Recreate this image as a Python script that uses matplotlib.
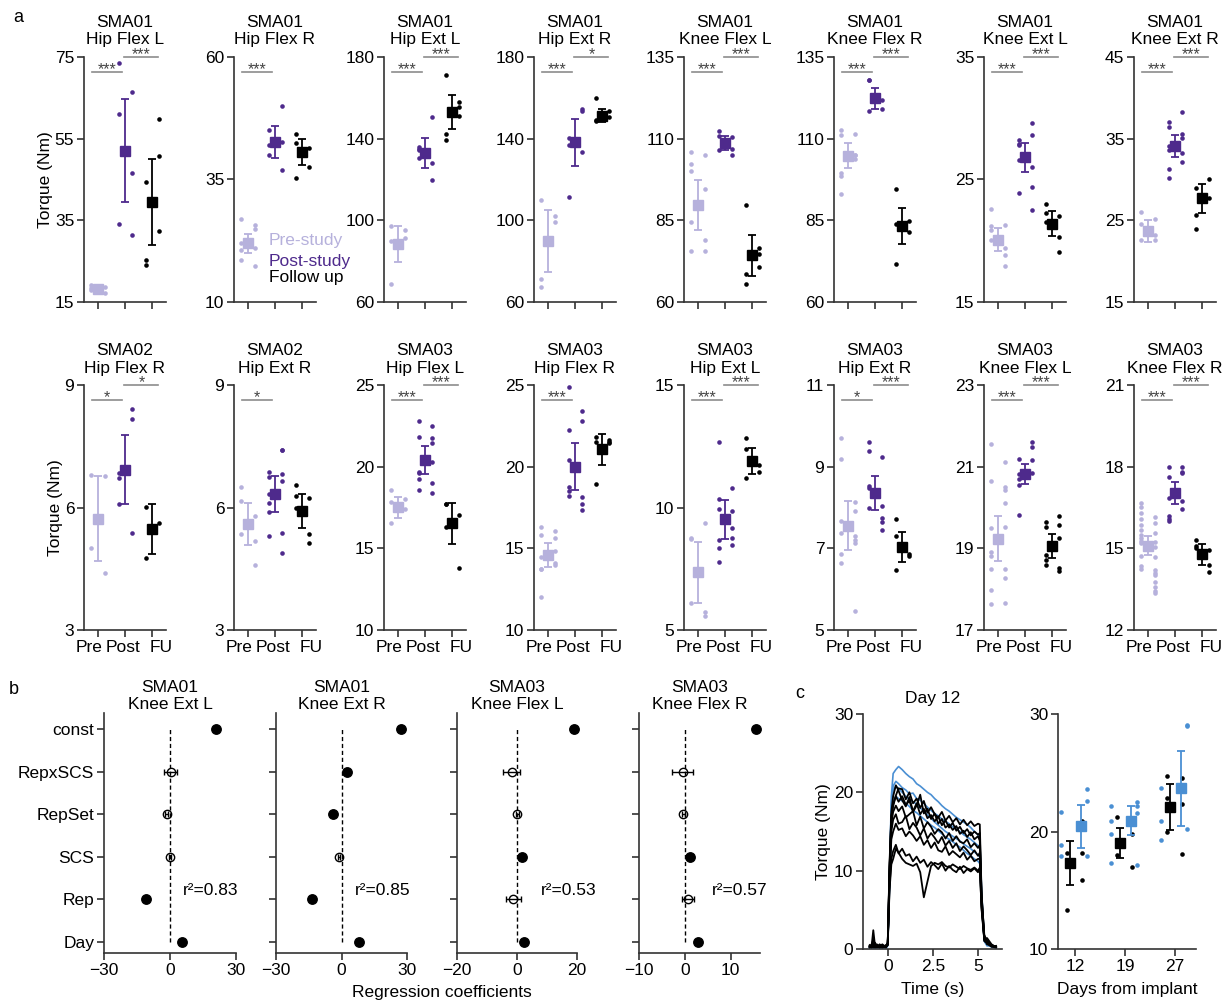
import numpy as np
import matplotlib
matplotlib.use("Agg")
import matplotlib.pyplot as plt
from matplotlib.transforms import ScaledTranslation

plt.rcParams['font.family'] = ['Liberation Sans', 'DejaVu Sans']
plt.rcParams['font.size'] = 12.5

# ---------------- data: panel a ----------------
TITLES_A = ["SMA01\nHip Flex L", "SMA01\nHip Flex R", "SMA01\nHip Ext L", "SMA01\nHip Ext R",
            "SMA01\nKnee Flex L", "SMA01\nKnee Flex R", "SMA01\nKnee Ext L", "SMA01\nKnee Ext R",
            "SMA02\nHip Flex R", "SMA02\nHip Ext R", "SMA03\nHip Flex L", "SMA03\nHip Flex R",
            "SMA03\nHip Ext L", "SMA03\nHip Ext R", "SMA03\nKnee Flex L", "SMA03\nKnee Flex R"]
YTICKS_A = [[15, 35, 55, 75], [10, 35, 60], [60, 100, 140, 180], [60, 100, 140, 180],
            [60, 85, 110, 135], [60, 85, 110, 135], [15, 25, 35], [15, 25, 35, 45],
            [3, 6, 9], [3, 6, 9], [10, 15, 20, 25], [10, 15, 20, 25],
            [5, 10, 15], [5, 7, 9, 11], [17, 19, 21, 23], [12, 15, 18, 21]]
PRE_PTS = [
    [19.2, 18.7, 18.0, 17.2, 18.4],
    [26.9, 25.8, 22.0, 24.8, 20.7, 21.0, 18.6, 17.3],
    [97.1, 95.1, 68.8, 91.3, 89.7],
    [109.8, 102.0, 67.2, 99.2, 71.4],
    [106.0, 104.9, 102.3, 75.7, 100.0, 94.6, 84.4, 78.9, 75.7],
    [112.6, 111.5, 111.2, 104.9, 99.5, 103.8, 98.7, 105.0, 93.2],
    [22.6, 21.3, 21.2, 19.4, 20.9, 18.8, 20.1, 17.97],
    [26.0, 25.2, 24.6, 23.2, 22.6, 22.6],
    [6.80, 6.78, 5.02, 4.39],
    [6.51, 5.78, 6.17, 5.18, 5.34, 4.59],
    [18.6, 18.0, 17.86, 17.4, 16.53],
    [16.33, 16.08, 15.82, 15.61, 14.49, 14.86, 13.71, 14.08, 12.04, 13.98, 13.71],
    [8.70, 9.38, 8.74, 5.57, 6.12, 5.75],
    [9.69, 8.13, 9.19, 7.91, 7.68, 7.31, 7.37, 7.12, 6.85, 7.20, 6.63, 5.47],
    [21.56, 21.11, 20.66, 20.51, 19.49, 20.43, 18.90, 20.10, 18.80, 19.53, 18.49, 18.49,
     17.64, 18.27, 17.98, 17.67],
    [16.68, 16.16, 16.51, 15.92, 16.29, 15.58, 16.07, 15.22, 15.86, 15.04, 15.67, 14.69,
     15.37, 14.20, 15.28, 14.08, 15.18, 14.02, 14.72, 13.78, 14.35, 13.59, 14.23, 13.43,
     15.50, 13.37],
]
POST_PTS = [
    [73.5, 66.4, 61.1, 46.6, 34.2, 31.3],
    [45.2, 49.9, 42.0, 42.6, 40.1, 36.9],
    [135.8, 150.6, 134.3, 128.1, 130.5, 119.9, 134.8],
    [136.7, 154.5, 111.3, 153.7, 140.3, 133.3],
    [112.4, 110.4, 110.9, 106.8, 106.5, 105.1],
    [127.9, 121.7, 128.1, 119.1, 118.6],
    [28.25, 29.6, 27.8, 28.6, 27.9, 26.0, 26.6, 24.4, 23.9, 22.5],
    [37.0, 38.3, 36.4, 35.6, 33.6, 35.1, 31.3, 33.2, 30.2, 32.2, 34.1],
    [6.85, 8.41, 6.73, 8.17, 6.09, 5.38],
    [6.88, 7.42, 6.74, 7.41, 6.12, 6.81, 5.90, 6.66, 6.33, 5.37, 5.31, 4.88],
    [22.8, 22.5, 21.84, 21.73, 19.69, 21.43, 19.59, 20.31, 19.22, 18.98, 18.57, 18.4],
    [24.9, 23.43, 22.24, 22.8, 20.41, 18.12, 18.78, 17.71, 18.51, 17.35, 18.2],
    [12.69, 10.81, 10.33, 9.87, 9.93, 9.15, 8.67, 8.74, 8.33, 8.47, 7.76],
    [9.60, 9.24, 9.39, 7.75, 8.53, 7.65, 8.47, 8.04, 8.0, 7.45],
    [21.19, 21.61, 20.82, 21.47, 20.69, 21.16, 19.82, 20.84, 20.55],
    [18.0, 18.0, 17.61, 17.79, 16.84, 17.76, 16.19, 16.75, 16.02, 16.44, 16.08],
]
FU_PTS = [
    [44.3, 59.8, 25.2, 50.7, 24.1, 32.3],
    [44.3, 41.4, 42.4, 37.5, 35.4],
    [171.0, 158.1, 142.4, 155.5, 139.5, 150.9],
    [159.9, 153.7, 148.5, 150.5, 149.3],
    [89.6, 76.5, 68.7, 74.8, 65.5, 70.6],
    [94.6, 84.9, 71.6, 81.4, 84.0],
    [23.0, 20.3, 22.3, 19.1, 21.5, 22.0],
    [23.9, 30.0, 29.0, 27.7, 25.6],
    [6.02, 5.63, 4.76],
    [6.55, 6.24, 6.27, 5.34, 6.0, 5.12],
    [17.71, 17.04, 17.71, 13.82, 16.33],
    [21.8, 21.63, 21.49, 21.53, 18.94, 21.47],
    [12.82, 11.73, 12.37, 11.46, 11.22],
    [7.71, 6.86, 7.29, 6.81, 6.47],
    [19.65, 19.8, 19.53, 19.57, 18.84, 19.26, 18.71, 18.53, 18.59, 18.44],
    [15.31, 14.39, 15.09, 14.12, 15.02, 14.94],
]
MEANS_A = [[18.3, 52.1, 39.4], [22.0, 42.7, 40.7], [88.4, 133.0, 152.9], [90.0, 138.2, 151.3],
           [89.8, 108.7, 74.3], [104.8, 122.3, 83.2], [20.1, 26.8, 21.4], [23.7, 34.1, 27.7],
           [5.73, 6.93, 5.47], [5.60, 6.33, 5.91], [17.51, 20.41, 16.53], [14.59, 20.0, 21.06],
           [7.35, 9.52, 11.91], [7.55, 8.35, 7.04], [19.24, 20.82, 19.06], [15.1, 17.04, 14.78]]
SEMS_A = [[0.4, 12.5, 10.5], [1.9, 3.25, 2.65], [9.0, 7.55, 8.4], [15.2, 11.65, 3.25],
          [7.65, 2.15, 6.25], [3.9, 3.15, 5.5], [0.9, 1.15, 1.05], [1.35, 1.3, 1.8],
          [1.05, 0.85, 0.62], [0.51, 0.44, 0.42], [0.63, 0.84, 1.27], [0.72, 1.43, 0.93],
          [1.25, 0.79, 0.53], [0.6, 0.41, 0.37], [0.54, 0.25, 0.29], [0.35, 0.41, 0.38]]
SIGS_A = [["***", "***"], ["***", ""], ["***", "***"], ["***", "*"],
          ["***", "***"], ["***", "***"], ["***", "***"], ["***", "***"],
          ["*", "*"], ["*", ""], ["***", "***"], ["***", ""],
          ["***", "***"], ["*", "***"], ["***", "***"], ["***", "***"]]
GROUPS = ["Pre", "Post", "FU"]
LEGEND_A = ["Pre-study", "Post-study", "Follow up"]

# ---------------- data: panel b ----------------
TITLES_B = ["SMA01\nKnee Ext L", "SMA01\nKnee Ext R", "SMA03\nKnee Flex L", "SMA03\nKnee Flex R"]
TERMS = ["const", "RepxSCS", "RepSet", "SCS", "Rep", "Day"]
COEFS = [[21.0, 0.3, -1.5, 0.0, -11.0, 5.6],
         [27.2, 2.3, -4.1, -1.1, -13.6, 8.0],
         [18.9, -1.8, 0.0, 1.7, -1.2, 2.2],
         [15.5, -0.5, -0.3, 1.2, 0.7, 2.8]]
COEF_ERR = [[0.5, 3.0, 0.8, 0.6, 0.5, 0.5],
            [0.5, 1.2, 0.5, 0.6, 0.5, 0.5],
            [0.5, 2.8, 0.5, 0.5, 2.4, 0.5],
            [0.5, 2.2, 0.4, 0.5, 1.3, 0.5]]
SIGNIF = [[1, 0, 0, 0, 1, 1],
          [1, 1, 1, 0, 1, 1],
          [1, 0, 0, 1, 0, 1],
          [1, 0, 0, 1, 0, 1]]
R2 = ["0.83", "0.85", "0.53", "0.57"]
XLIM_B = [(-30, 30), (-30, 30), (-20, 20), (-10, 16.4)]
XTICKS_B = [[-30, 0, 30], [-30, 0, 30], [-20, 0, 20], [-10, 0, 10]]

# ---------------- data: panel c ----------------
T_TRACE = [-1.0, -0.9, -0.8, -0.7, -0.6, -0.45, -0.3, -0.1, 0.0, 0.1, 0.2, 0.3, 0.45, 0.6,
           0.8, 1.0, 1.2, 1.4, 1.6, 1.8, 2.0, 2.2, 2.4, 2.6, 2.8, 3.0, 3.2, 3.4, 3.6, 3.8,
           4.0, 4.2, 4.4, 4.6, 4.8, 5.0, 5.1, 5.2, 5.35, 5.5, 5.75, 6.0]
BLUE_TRACES = [
    [0.2, 0.4, 0.1, 0.3, 0.2, 0.1, 0.3, 0.2, 0.6, 9.5, 19.5, 22.4, 22.9, 23.3,
     22.9, 22.4, 22.0, 21.7, 21.1, 20.8, 20.4, 20.0, 19.7, 19.2, 18.8, 18.3, 17.9, 17.6,
     17.2, 16.8, 16.5, 16.2, 15.9, 15.5, 15.0, 14.6, 14.1, 7.5, 1.2, 0.6, 0.3, 0.2],
    [0.1, 0.2, 0.3, 0.1, 0.2, 0.3, 0.1, 0.2, 0.5, 9.0, 18.5, 20.8, 21.4, 21.1,
     20.6, 20.3, 19.8, 19.9, 19.2, 19.0, 18.6, 18.1, 17.7, 17.3, 17.0, 16.6, 16.3, 16.0,
     15.6, 15.3, 15.0, 14.6, 14.3, 14.0, 13.6, 13.2, 12.9, 6.5, 1.0, 0.4, 0.5, 0.2],
    [0.3, 0.1, 0.2, 0.2, 0.4, 0.1, 0.2, 0.1, 0.4, 8.5, 17.8, 20.3, 20.8, 20.5,
     20.0, 19.5, 19.1, 18.8, 18.5, 18.0, 17.6, 17.1, 16.7, 16.2, 15.8, 15.4, 15.0, 14.7,
     14.4, 14.1, 13.8, 13.4, 13.1, 12.8, 12.4, 12.0, 11.7, 6.0, 1.3, 0.7, 0.3, 0.1],
    [0.2, 0.3, 0.2, 0.1, 0.3, 0.2, 0.1, 0.3, 0.5, 8.0, 16.5, 18.8, 19.5, 19.2,
     18.9, 18.6, 18.2, 17.7, 17.4, 17.0, 16.6, 16.2, 15.8, 15.5, 15.1, 14.7, 14.3, 14.0,
     13.7, 13.3, 13.0, 12.6, 12.2, 11.9, 11.5, 11.2, 10.9, 5.5, 1.1, 0.5, 0.3, 0.2],
]
BLACK_TRACES = [
    [0.3, 0.5, 1.2, 0.4, 0.2, 0.6, 0.3, 0.4, 0.8, 10.5, 17.0, 18.2, 19.6, 20.5,
     20.4, 19.1, 20.0, 18.6, 19.2, 18.0, 18.9, 17.4, 18.1, 17.2, 16.8, 17.5, 16.4, 17.0,
     16.2, 16.7, 15.9, 16.5, 15.8, 16.3, 15.7, 16.0, 15.9, 7.0, 1.5, 0.9, 0.4, 0.3],
    [0.4, 0.2, 2.4, 0.3, 0.6, 0.2, 0.5, 0.3, 0.6, 11.0, 17.5, 19.5, 20.9, 20.2,
     19.0, 18.2, 19.4, 17.5, 18.3, 19.7, 17.3, 17.9, 16.6, 17.3, 16.0, 16.6, 15.5, 15.9,
     15.2, 15.7, 14.7, 15.1, 14.3, 14.9, 14.0, 14.4, 13.8, 6.8, 1.8, 1.0, 0.5, 0.3],
    [0.2, 0.6, 0.3, 0.8, 0.3, 0.5, 0.2, 0.4, 0.7, 10.0, 16.0, 17.5, 18.3, 17.6,
     18.2, 16.8, 17.2, 17.6, 15.8, 16.9, 15.4, 16.2, 15.6, 14.7, 15.3, 14.9, 14.1, 14.8,
     13.8, 14.4, 13.7, 13.5, 14.0, 13.0, 13.5, 12.9, 13.3, 6.2, 1.2, 1.4, 0.6, 0.2],
    [0.5, 0.3, 0.7, 0.2, 0.4, 0.3, 0.6, 0.2, 0.5, 9.5, 15.0, 16.5, 17.2, 16.0,
     16.2, 17.0, 15.3, 16.1, 15.5, 14.5, 15.4, 14.1, 14.8, 14.2, 13.5, 14.3, 13.2, 13.8,
     12.9, 13.5, 12.5, 13.1, 12.6, 12.0, 12.6, 11.9, 12.3, 5.8, 1.0, 0.8, 0.3, 0.4],
    [0.3, 0.4, 0.2, 0.5, 0.3, 0.2, 0.4, 0.3, 0.6, 9.0, 14.0, 15.0, 16.0, 15.2,
     15.4, 14.4, 15.0, 14.5, 13.8, 14.4, 13.3, 13.9, 12.9, 13.6, 12.6, 12.4, 13.1, 12.0,
     12.5, 12.1, 11.7, 12.3, 11.4, 11.9, 11.2, 11.5, 11.5, 5.5, 1.6, 0.6, 0.5, 0.2],
    [0.2, 0.3, 0.5, 0.2, 0.3, 0.4, 0.2, 0.3, 0.5, 8.0, 11.5, 12.5, 13.3, 12.2,
     12.8, 11.9, 12.1, 11.2, 11.8, 11.0, 11.4, 10.5, 11.1, 10.7, 10.2, 10.9, 10.0, 10.6,
     10.1, 9.8, 10.5, 9.7, 10.2, 9.9, 10.3, 9.8, 10.4, 5.0, 1.1, 0.7, 0.3, 0.2],
    [0.4, 0.2, 0.3, 0.6, 0.2, 0.3, 0.2, 0.5, 0.6, 7.5, 10.8, 11.5, 12.8, 12.3,
     11.5, 11.0, 10.8, 10.6, 10.9, 9.8, 6.6, 8.6, 10.6, 11.0, 10.8, 11.1, 10.6, 10.4,
     10.8, 10.5, 10.2, 10.6, 10.3, 10.1, 10.4, 10.0, 10.3, 5.2, 1.3, 0.9, 0.4, 0.3],
    [0.3, 0.2, 0.4, 0.3, 0.5, 0.2, 0.3, 0.2, 0.7, 10.2, 16.8, 18.5, 19.5, 18.8,
     19.5, 18.4, 18.9, 17.6, 18.6, 17.2, 17.9, 16.7, 17.1, 16.3, 16.9, 15.8, 16.4, 15.5,
     16.1, 15.1, 15.6, 14.8, 15.3, 14.5, 15.0, 14.6, 14.8, 6.6, 1.4, 1.1, 0.4, 0.3],
]
DAYS = ["12", "19", "27"]
BLACK_PTS = [[18.2, 20.9, 13.3, 18.2, 17.2, 15.9],
             [21.2, 19.8, 18.0, 17.0],
             [24.75, 24.55, 22.85, 22.34, 19.96, 18.09]]
BLACK_MEAN = [17.32, 19.02, 22.09]
BLACK_SEM = [1.9, 1.25, 1.97]
BLUE_PTS = [[21.66, 23.65, 17.94, 22.62, 18.88, 17.89],
            [22.2, 22.51, 20.87, 22.2, 19.79, 21.57, 17.32, 17.18],
            [20.92, 29.1, 19.3, 28.95, 23.7, 20.2]]
BLUE_MEAN = [20.44, 20.92, 23.7]
BLUE_SEM = [1.84, 1.24, 3.19]

# ---------------- figure ----------------
W, H = 1228, 1005
fig = plt.figure(figsize=(W / 100, H / 100), dpi=100)

PRE_C, POST_C, FU_C = "#b6b1dc", "#4e2a8c", "black"
BLUE = "#4a8fd3"
SPINE = "#333333"
FS = 12.5


def add_ax(x0, y0, x1, y1):
    return fig.add_axes([x0 / W, 1 - y1 / H, (x1 - x0) / W, (y1 - y0) / H])


def style(ax):
    for s in ["top", "right"]:
        ax.spines[s].set_visible(False)
    for s in ["left", "bottom"]:
        ax.spines[s].set_linewidth(1.2)
        ax.spines[s].set_color(SPINE)
    ax.tick_params(length=5, width=1.2, color=SPINE, labelsize=FS, pad=2)


# ---- panel a ----
for i in range(16):
    row, col = divmod(i, 8)
    x0 = 84 + 150 * col
    y0, y1 = (57, 302) if row == 0 else (385, 630)
    ax = add_ax(x0, y0, x0 + 82, y1)
    style(ax)
    for g, (pts, c) in enumerate(zip([PRE_PTS[i], POST_PTS[i], FU_PTS[i]], [PRE_C, POST_C, FU_C])):
        offs = np.array([-0.23 if k % 2 == 0 else 0.26 for k in range(len(pts))])
        ax.plot(g + offs, pts, "o", ms=3.3, color=c, mec="none", clip_on=False, zorder=3)
        ax.errorbar(g, MEANS_A[i][g], yerr=SEMS_A[i][g], fmt="s", ms=7, color=c,
                    capsize=3, elinewidth=1.3, capthick=1.3, zorder=4)
    ax.set_xlim(-0.5, 2.5)
    ax.set_ylim(YTICKS_A[i][0], YTICKS_A[i][-1])
    ax.set_yticks(YTICKS_A[i])
    ax.set_xticks([0, 1, 2])
    ax.set_xticklabels(GROUPS if row == 1 else [])
    if row == 1:
        # labels sit spread apart in the original
        for lab, dx in zip(ax.get_xticklabels(), [-9, -2, 9]):
            lab.set_transform(lab.get_transform() + ScaledTranslation(dx / 100, 0, fig.dpi_scale_trans))
    ax.set_title(TITLES_A[i], fontsize=FS, pad=9, linespacing=1.2)
    if col == 0:
        ax.set_ylabel("Torque (Nm)", fontsize=FS, labelpad=1)
    tr = ax.get_xaxis_transform()
    for (xa, xb, yb), s in zip([(-0.2, 0.9, 0.94), (0.98, 2.22, 1.0)], SIGS_A[i]):
        if not s:
            continue
        ax.plot([xa, xb], [yb, yb], color="#8c8c8c", lw=1.2, transform=tr, clip_on=False)
        ax.annotate(s, xy=((xa + xb) / 2, yb), xycoords=tr, xytext=(0, -4),
                    textcoords="offset points", ha="center", va="bottom",
                    fontsize=11.5, color="#444444")
    if i == 1:
        for txt, c, yf in zip(LEGEND_A, [PRE_C, POST_C, FU_C], [0.253, 0.167, 0.098]):
            ax.text(0.78, yf, txt, color=c, fontsize=FS, va="center", ha="left",
                    transform=tr)

fig.text(18 / W, 1 - 18 / H, "a", fontsize=13, va="center", ha="center")

# ---- panel b ----
B_X = [(104, 236), (276, 407), (457, 577), (639, 760)]
ypos = [5, 4, 3, 2, 1, 0]
for j, (xa, xb) in enumerate(B_X):
    ax = add_ax(xa, 713, xb, 953)
    style(ax)
    ax.vlines(0, 0, 5, colors="black", linestyles=(0, (3, 2)), lw=1.0, zorder=1)
    for k in range(len(TERMS)):
        if SIGNIF[j][k]:
            eb = ax.errorbar(COEFS[j][k], ypos[k], xerr=COEF_ERR[j][k], fmt="o", ms=6.8,
                             color="black", capsize=2, elinewidth=1, zorder=3)
        else:
            eb = ax.errorbar(COEFS[j][k], ypos[k], xerr=COEF_ERR[j][k], fmt="o", ms=6,
                             mfc="none", mec="black", mew=1, color="black", capsize=2,
                             elinewidth=1, zorder=3)
        eb.lines[0].set_clip_on(False)
    ax.set_xlim(*XLIM_B[j])
    ax.set_xticks(XTICKS_B[j])
    ax.set_ylim(-0.26, 5.38)
    ax.set_yticks(ypos)
    ax.set_yticklabels(TERMS if j == 0 else [])
    ax.set_title(TITLES_B[j], fontsize=FS, pad=3, linespacing=1.15)
    ax.text(0.6 if j != 2 else 0.695, 1.2, "r²=" + R2[j], fontsize=FS,
            transform=ax.get_yaxis_transform(), ha="left", va="center")

fig.text(442 / W, 1 - 992 / H, "Regression coefficients", fontsize=FS, ha="center", va="center")
fig.text(14 / W, 1 - 690 / H, "b", fontsize=13, va="center", ha="center")

# ---- panel c ----
ax = add_ax(863, 714, 1002, 949)
style(ax)
for tr_ in BLUE_TRACES:
    ax.plot(T_TRACE, tr_, color=BLUE, lw=1.2)
for tr_ in BLACK_TRACES:
    ax.plot(T_TRACE, tr_, color="black", lw=1.3)
ax.set_xlim(-1.37, 6.33)
ax.set_ylim(0, 30)
ax.set_yticks([0, 10, 20, 30])
ax.set_xticks([0, 2.5, 5])
ax.set_xticklabels(["0", "2.5", "5"])
ax.set_title("Day 12", fontsize=FS, pad=8)
ax.set_xlabel("Time (s)", fontsize=FS, labelpad=6)
ax.set_ylabel("Torque (Nm)", fontsize=FS, labelpad=2)

ax = add_ax(1058, 714, 1196, 949)
style(ax)
for d in range(3):
    for pts, c, jl, jr in [(BLACK_PTS[d], "black", -0.17, 0.14),
                           (BLUE_PTS[d], BLUE, -0.28, 0.24)]:
        xs = [d + (jl if k % 2 == 0 else jr) for k in range(len(pts))]
        ax.plot(xs, pts, "o", ms=3.3, color=c, mec="none", zorder=3)
    ax.errorbar(d - 0.11, BLACK_MEAN[d], yerr=BLACK_SEM[d], fmt="s", ms=7, color="black",
                capsize=3, elinewidth=1.3, capthick=1.3, zorder=4)
    ax.errorbar(d + 0.11, BLUE_MEAN[d], yerr=BLUE_SEM[d], fmt="s", ms=7, color=BLUE,
                capsize=3, elinewidth=1.3, capthick=1.3, zorder=4)
ax.set_xlim(-0.34, 2.42)
ax.set_ylim(10, 30)
ax.set_yticks([10, 20, 30])
ax.set_xticks([0, 1, 2])
ax.set_xticklabels(DAYS)
ax.set_xlabel("Days from implant", fontsize=FS, labelpad=6)

fig.text(800 / W, 1 - 693 / H, "c", fontsize=13, va="center", ha="center")

fig.savefig("out.png", dpi=100)
